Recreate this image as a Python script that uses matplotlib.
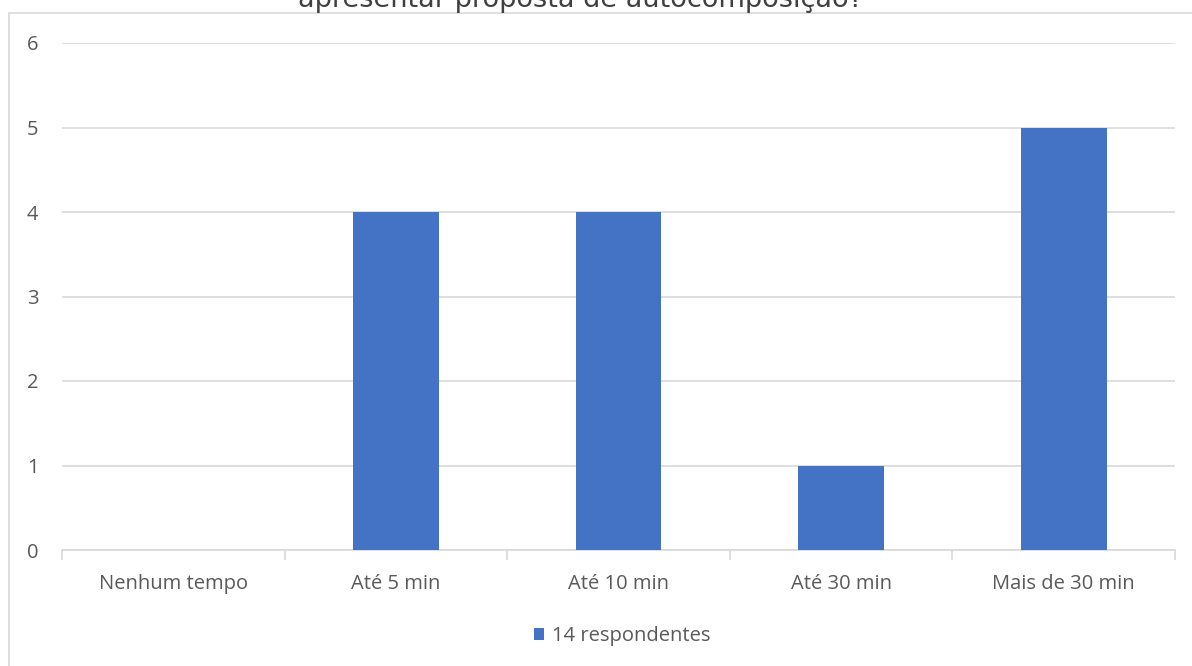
import numpy as np
import matplotlib.pyplot as plt
from matplotlib.patches import Rectangle

categorias = ["Nenhum tempo", "Até 5 min", "Até 10 min", "Até 30 min", "Mais de 30 min"]
respostas = [0, 4, 4, 1, 5]
serie = "14 respondentes"
titulo = "apresentar proposta de autocomposição?"

azul = "#4472C4"
cinza_txt = "#595959"
cinza_grade = "#D9D9D9"

fig = plt.figure(figsize=(11.92, 6.66), dpi=100)

# moldura do gráfico
fig.patches.append(Rectangle((9 / 1192, -0.1), 1.2, 1.1 - 13 / 666, transform=fig.transFigure,
                             fill=False, edgecolor=cinza_grade, linewidth=1.2, zorder=0))

# título (só a parte de baixo aparece)
fig.text(581 / 1192, 1 - 7 / 666, titulo, ha="center", va="baseline",
         fontsize=19.5, color="#404040", family="DejaVu Sans")

ax = fig.add_axes([62 / 1192, 116 / 666, 1113 / 1192, 507 / 666])
x = np.arange(len(categorias))
ax.bar(x, respostas, width=0.385, color=azul, zorder=3, label=serie)

ax.set_xlim(-0.5, len(categorias) - 0.5)
ax.set_ylim(0, 6)
ax.set_yticks(range(7))
ax.grid(axis="y", color=cinza_grade, linewidth=1.2, zorder=0)
for s in ["top", "right", "left"]:
    ax.spines[s].set_visible(False)
ax.spines["bottom"].set_color(cinza_grade)
ax.spines["bottom"].set_linewidth(1.2)

ax.set_xticks(x)
ax.set_xticklabels(categorias)
ax.set_xticks(np.arange(-0.5, len(categorias)), minor=True)
ax.tick_params(axis="x", which="major", length=0, pad=17, labelsize=14.5, labelcolor=cinza_txt)
ax.tick_params(axis="x", which="minor", length=7, color=cinza_grade, width=1.2)
ax.tick_params(axis="y", length=0, pad=17, labelsize=14.5, labelcolor=cinza_txt)
for lb in ax.get_xticklabels() + ax.get_yticklabels():
    lb.set_family("Open Sans")

leg = fig.legend(loc="center", bbox_to_anchor=(622 / 1192, 1 - 636 / 666), frameon=False,
                 handlelength=0.5, handleheight=0.5, handletextpad=0.4,
                 prop={"family": "Open Sans", "size": 14.5})
for t in leg.get_texts():
    t.set_color(cinza_txt)

fig.savefig("out.png", dpi=100)
